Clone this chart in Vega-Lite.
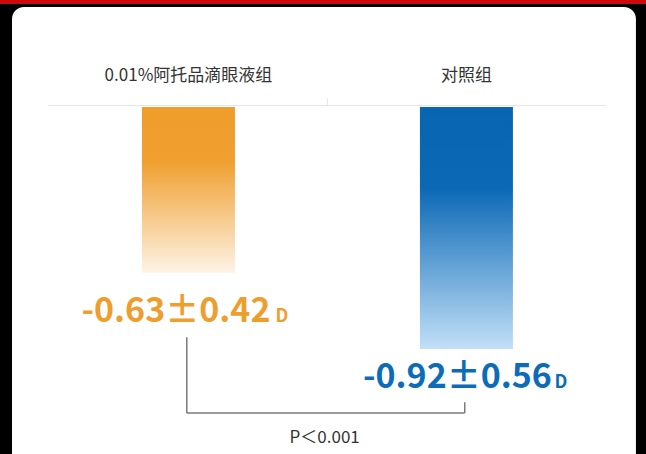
{
  "$schema": "https://vega.github.io/schema/vega-lite/v6.json",
  "width": 646,
  "height": 454,
  "autosize": {"type": "fit", "contains": "padding"},
  "padding": 0,
  "background": "#000000",
  "config": {"view": {"stroke": null, "fill": "#000000"}, "font": "Noto Sans CJK SC"},
  "data": {"values": [
    {"group": 1, "label": "0.01%阿托品滴眼液组", "mean": -0.63, "sd": 0.42, "result": "-0.63±0.42", "unit": "D"},
    {"group": 2, "label": "对照组", "mean": -0.92, "sd": 0.56, "result": "-0.92±0.56", "unit": "D"}
  ]},
  "layer": [
    {
      "data": {"values": [{}]},
      "mark": {"type": "rect", "color": "#cc0a0a"},
      "encoding": {
        "x": {"datum": 0.322, "type": "quantitative", "scale": {"type": "linear", "domain": [0.322, 2.646], "nice": false, "zero": false, "padding": 0}, "axis": null},
        "x2": {"datum": 2.646},
        "y": {"datum": 0.407, "type": "quantitative", "scale": {"type": "linear", "domain": [-1.319, 0.407], "nice": false, "zero": false, "padding": 0}, "axis": null},
        "y2": {"datum": 0.3916}
      }
    },
    {
      "data": {"values": [{}]},
      "mark": {"type": "rect", "color": "#ffffff", "cornerRadius": 12, "clip": true},
      "encoding": {
        "x": {"datum": 0.3652, "type": "quantitative"},
        "x2": {"datum": 2.6098},
        "y": {"datum": 0.380, "type": "quantitative"},
        "y2": {"datum": -1.45}
      }
    },
    {
      "data": {"values": [{}]},
      "mark": {"type": "rule", "color": "#e2e5ea", "strokeWidth": 1},
      "encoding": {
        "x": {"datum": 0.4947, "type": "quantitative"},
        "x2": {"datum": 2.502},
        "y": {"datum": 0.006, "type": "quantitative"}
      }
    },
    {
      "data": {"values": [{}]},
      "mark": {"type": "rule", "color": "#e2e5ea", "strokeWidth": 1},
      "encoding": {
        "x": {"datum": 1.5, "type": "quantitative"},
        "y": {"datum": 0.034, "type": "quantitative"},
        "y2": {"datum": 0.006}
      }
    },
    {
      "mark": {"type": "text", "fontSize": 17, "color": "#333333", "baseline": "middle", "align": "center"},
      "encoding": {
        "x": {"field": "group", "type": "quantitative"},
        "y": {"datum": 0.118, "type": "quantitative"},
        "text": {"field": "label"}
      }
    },
    {
      "transform": [{"filter": "datum.group == 1"}],
      "mark": {"type": "bar", "orient": "vertical", "width": 93, "color": {"gradient": "linear", "x1": 0, "y1": 0, "x2": 0, "y2": 1, "stops": [
        {"offset": 0, "color": "#ef9d2b"},
        {"offset": 0.33, "color": "#f0a030"},
        {"offset": 1, "color": "#fef3e6"}
      ]}},
      "encoding": {
        "x": {"field": "group", "type": "quantitative"},
        "y": {"field": "mean", "type": "quantitative"},
        "y2": {"datum": 0}
      }
    },
    {
      "transform": [{"filter": "datum.group == 2"}],
      "mark": {"type": "bar", "orient": "vertical", "width": 93, "color": {"gradient": "linear", "x1": 0, "y1": 0, "x2": 0, "y2": 1, "stops": [
        {"offset": 0, "color": "#0865b2"},
        {"offset": 0.33, "color": "#0a68b5"},
        {"offset": 1, "color": "#c2dff8"}
      ]}},
      "encoding": {
        "x": {"field": "group", "type": "quantitative"},
        "y": {"field": "mean", "type": "quantitative"},
        "y2": {"datum": 0}
      }
    },
    {
      "transform": [{"filter": "datum.group == 1"}],
      "mark": {"type": "text", "fontSize": 34, "fontWeight": "bold", "color": "#ee9e2e", "align": "right", "baseline": "alphabetic", "dx": 82, "dy": 49},
      "encoding": {
        "x": {"field": "group", "type": "quantitative"},
        "y": {"field": "mean", "type": "quantitative"},
        "text": {"field": "result"}
      }
    },
    {
      "transform": [{"filter": "datum.group == 1"}],
      "mark": {"type": "text", "fontSize": 18, "fontWeight": "bold", "color": "#ee9e2e", "align": "left", "baseline": "alphabetic", "dx": 87, "dy": 49},
      "encoding": {
        "x": {"field": "group", "type": "quantitative"},
        "y": {"field": "mean", "type": "quantitative"},
        "text": {"field": "unit"}
      }
    },
    {
      "transform": [{"filter": "datum.group == 2"}],
      "mark": {"type": "text", "fontSize": 34, "fontWeight": "bold", "color": "#0d6cb8", "align": "right", "baseline": "alphabetic", "dx": 85.5, "dy": 39},
      "encoding": {
        "x": {"field": "group", "type": "quantitative"},
        "y": {"field": "mean", "type": "quantitative"},
        "text": {"field": "result"}
      }
    },
    {
      "transform": [{"filter": "datum.group == 2"}],
      "mark": {"type": "text", "fontSize": 18, "fontWeight": "bold", "color": "#0d6cb8", "align": "left", "baseline": "alphabetic", "dx": 88, "dy": 39},
      "encoding": {
        "x": {"field": "group", "type": "quantitative"},
        "y": {"field": "mean", "type": "quantitative"},
        "text": {"field": "unit"}
      }
    },
    {
      "data": {"values": [{}]},
      "mark": {"type": "rule", "color": "#7a7a7a", "strokeWidth": 1.5},
      "encoding": {
        "x": {"datum": 0.994, "type": "quantitative"},
        "y": {"datum": -0.875, "type": "quantitative"},
        "y2": {"datum": -1.163}
      }
    },
    {
      "data": {"values": [{}]},
      "mark": {"type": "rule", "color": "#7a7a7a", "strokeWidth": 1.5},
      "encoding": {
        "x": {"datum": 0.994, "type": "quantitative"},
        "x2": {"datum": 1.994},
        "y": {"datum": -1.163, "type": "quantitative"}
      }
    },
    {
      "data": {"values": [{}]},
      "mark": {"type": "rule", "color": "#7a7a7a", "strokeWidth": 1.5},
      "encoding": {
        "x": {"datum": 1.994, "type": "quantitative"},
        "y": {"datum": -1.122, "type": "quantitative"},
        "y2": {"datum": -1.163}
      }
    },
    {
      "data": {"values": [{"note": "P＜0.001"}]},
      "mark": {"type": "text", "fontSize": 17, "color": "#333333", "align": "center", "baseline": "middle"},
      "encoding": {
        "x": {"datum": 1.49, "type": "quantitative"},
        "y": {"datum": -1.258, "type": "quantitative"},
        "text": {"field": "note"}
      }
    }
  ]
}
